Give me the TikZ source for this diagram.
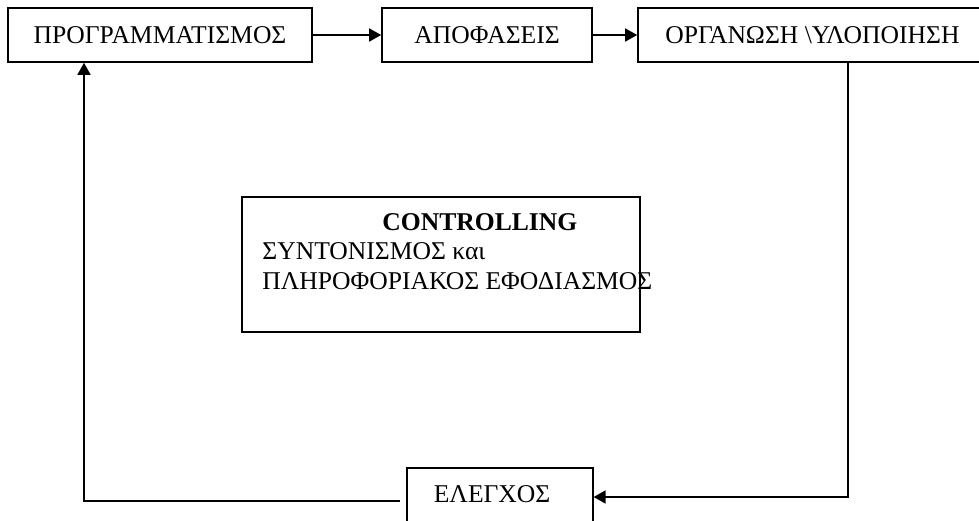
\documentclass[tikz,border=0pt]{standalone}
\usepackage{fontspec}
\setmainfont{Liberation Serif}
\usetikzlibrary{arrows.meta}
\tikzset{
  box/.style={draw, line width=0.8pt},
  arr/.style={line width=0.8pt, -{Triangle[length=6pt,width=6.5pt]}}
}
\begin{document}
\begin{tikzpicture}[x=0.5pt,y=-0.5pt,font=\fontsize{12.8}{14.75}\selectfont]
\useasboundingbox (0,0) rectangle (979,520);
\clip (0,0) rectangle (979,520);
% top row
\node[box, minimum width=152pt, minimum height=27pt] (prog) at (160,35) {ΠΡΟΓΡΑΜΜΑΤΙΣΜΟΣ};
\node[box, minimum width=105pt, minimum height=27pt] (apof) at (487,35) {ΑΠΟΦΑΣΕΙΣ};
\node[box, minimum width=174.5pt, minimum height=27pt] (org) at (812.5,35) {ΟΡΓΑΝΩΣΗ \textbackslash ΥΛΟΠΟΙΗΣΗ};
% middle box
\node[box, minimum width=199pt, minimum height=67.5pt] (ctrl) at (441,264.5) {};
\node[anchor=north west, align=left, inner sep=0pt] (ctrltxt) at (262,213)
  {\hspace*{60pt}\textbf{CONTROLLING}\\ΣΥΝΤΟΝΙΣΜΟΣ και\\ΠΛΗΡΟΦΟΡΙΑΚΟΣ ΕΦΟΔΙΑΣΜΟΣ};
% bottom box
\node[box, anchor=base west, inner xsep=13.5pt, inner ysep=0pt, text width=66pt, align=left,
  text height=17pt, text depth=19pt] (elegxos) at (406,502) {ΕΛΕΓΧΟΣ};
% connectors
\coordinate (r) at (848,497);
\coordinate (l) at (84,501);
\draw[arr] (prog) -- (apof);
\draw[arr] (apof) -- (org);
\draw[arr] (org.south -| r) |- (elegxos.east |- r);
\draw[arr, shorten <=3pt] (elegxos.west |- l) -| (prog.south -| l);
\end{tikzpicture}
\end{document}
